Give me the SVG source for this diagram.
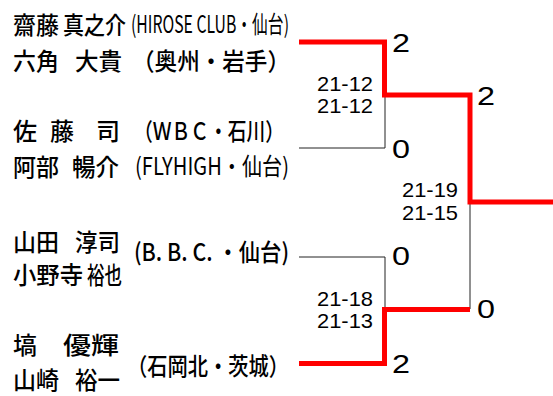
<svg xmlns="http://www.w3.org/2000/svg" width="553" height="396" viewBox="0 0 553 396">
<style>
.n{font-family:"Noto Sans CJK JP","Liberation Sans",sans-serif;font-size:24px;font-weight:500;fill:#000}
.t{font-weight:400}
.s{font-family:"Liberation Sans","DejaVu Sans",sans-serif;font-size:21px;fill:#000}
.w{font-family:"Liberation Sans","DejaVu Sans",sans-serif;font-size:26px;fill:#000}
.k{fill:none;stroke:#222;stroke-width:1}
.r{fill:none;stroke:#ff0000;stroke-width:5}
</style>
<rect width="553" height="396" fill="#fff"/>
<g id="connectors">
<path class="k" d="M299,148H385V95"/>
<path class="k" d="M299,257H385V309"/>
<path class="k" d="M470,202V309"/>
<path class="r" d="M299,42H384.5V95H470V202H553"/>
<path class="r" d="M299,363.5H384.5V309.5H470"/>
</g>
<g id="team1">
<text class="n" x="13" y="34" textLength="46" lengthAdjust="spacingAndGlyphs">齋藤</text>
<text class="n" x="63" y="34" textLength="63" lengthAdjust="spacingAndGlyphs">真之介</text>
<text class="n t" x="131" y="33" textLength="158" lengthAdjust="spacingAndGlyphs">(HIROSE CLUB・仙台)</text>
<text class="n" x="13" y="70" textLength="46" lengthAdjust="spacingAndGlyphs">六角</text>
<text class="n" x="75" y="70" textLength="47" lengthAdjust="spacingAndGlyphs">大貴</text>
<text class="n" x="132" y="70" textLength="158" lengthAdjust="spacingAndGlyphs">（奥州・岩手）</text>
</g>
<g id="team2">
<text class="n" x="13 50 75 96" y="140">佐藤 司</text>
<text class="n" x="134" y="140" textLength="150" lengthAdjust="spacingAndGlyphs">（ＷＢＣ・石川）</text>
<text class="n" x="13" y="176" textLength="46" lengthAdjust="spacingAndGlyphs">阿部</text>
<text class="n" x="72" y="176" textLength="47" lengthAdjust="spacingAndGlyphs">暢介</text>
<text class="n t" x="135" y="175" textLength="154" lengthAdjust="spacingAndGlyphs">(FLYHIGH・仙台)</text>
</g>
<g id="team3">
<text class="n" x="13" y="251" textLength="46" lengthAdjust="spacingAndGlyphs">山田</text>
<text class="n" x="75" y="251" textLength="45" lengthAdjust="spacingAndGlyphs">淳司</text>
<text class="n" x="13" y="284" textLength="70" lengthAdjust="spacingAndGlyphs">小野寺</text>
<text class="n" x="87" y="284" textLength="35" lengthAdjust="spacingAndGlyphs">裕也</text>
<text class="n" x="134" y="261" textLength="155" lengthAdjust="spacingAndGlyphs">(B. B. C. ・仙台)</text>
</g>
<g id="team4">
<text class="n" x="13" y="354" textLength="24" lengthAdjust="spacingAndGlyphs">塙</text>
<text class="n" x="63" y="354" textLength="56" lengthAdjust="spacingAndGlyphs">優輝</text>
<text class="n" x="13" y="389" textLength="46" lengthAdjust="spacingAndGlyphs">山崎</text>
<text class="n" x="75" y="389" textLength="45" lengthAdjust="spacingAndGlyphs">裕一</text>
<text class="n" x="127" y="375" textLength="162" lengthAdjust="spacingAndGlyphs">（石岡北・茨城）</text>
</g>
<g id="scores">
<text class="w" x="392" y="52" textLength="18" lengthAdjust="spacingAndGlyphs">2</text>
<text class="w" x="392" y="158" textLength="18" lengthAdjust="spacingAndGlyphs">0</text>
<text class="w" x="477" y="105" textLength="18" lengthAdjust="spacingAndGlyphs">2</text>
<text class="w" x="392" y="265" textLength="18" lengthAdjust="spacingAndGlyphs">0</text>
<text class="w" x="477" y="318" textLength="18" lengthAdjust="spacingAndGlyphs">0</text>
<text class="w" x="392" y="373" textLength="18" lengthAdjust="spacingAndGlyphs">2</text>
<text class="s" x="317" y="91" textLength="56" lengthAdjust="spacingAndGlyphs">21-12</text>
<text class="s" x="317" y="113" textLength="56" lengthAdjust="spacingAndGlyphs">21-12</text>
<text class="s" x="402" y="197" textLength="56" lengthAdjust="spacingAndGlyphs">21-19</text>
<text class="s" x="402" y="220" textLength="56" lengthAdjust="spacingAndGlyphs">21-15</text>
<text class="s" x="317" y="306" textLength="56" lengthAdjust="spacingAndGlyphs">21-18</text>
<text class="s" x="317" y="328" textLength="56" lengthAdjust="spacingAndGlyphs">21-13</text>
</g>
</svg>
